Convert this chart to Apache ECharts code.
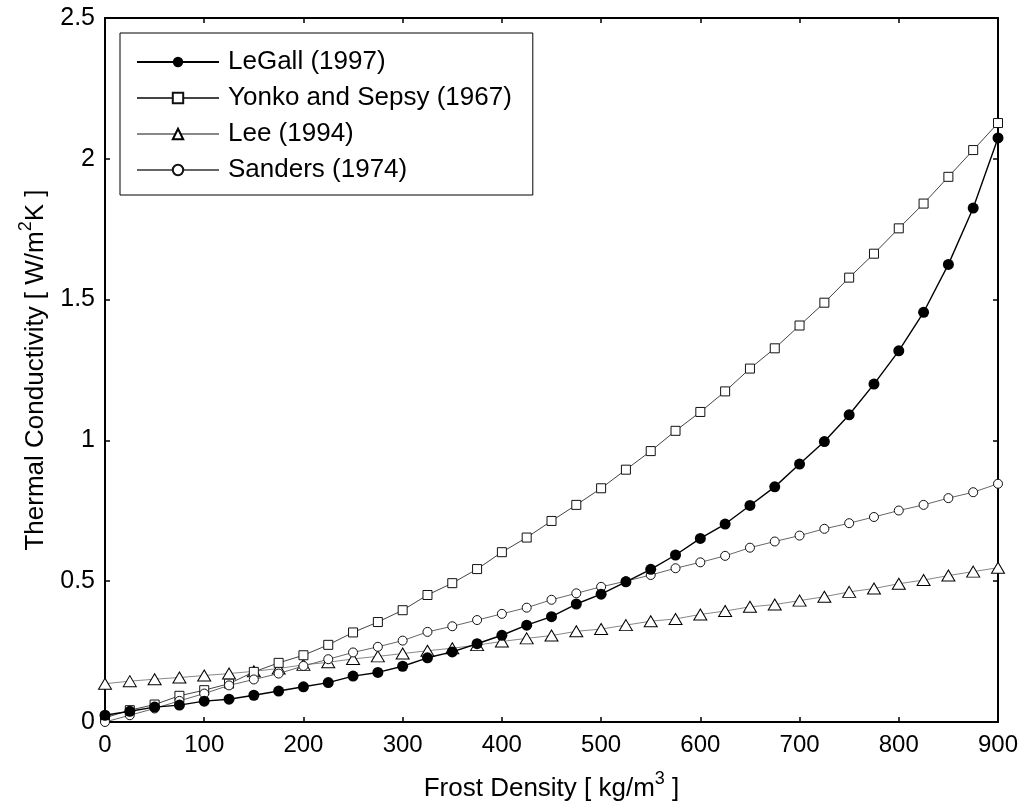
<!DOCTYPE html>
<html>
<head>
<meta charset="utf-8">
<script src="https://cdn.jsdelivr.net/npm/echarts@6/dist/echarts.min.js"></script>
<style>
html,body{margin:0;padding:0;background:#fff;}
#chart{width:1025px;height:805px;}
</style>
</head>
<body>
<div id="chart"></div>
<script>
var density = [0,25,50,75,100,125,150,175,200,225,250,275,300,325,350,375,400,425,450,475,500,525,550,575,600,625,650,675,700,725,750,775,800,825,850,875,900];
var legall = [0.024,0.038,0.053,0.06,0.074,0.081,0.095,0.11,0.125,0.14,0.163,0.176,0.198,0.228,0.249,0.278,0.308,0.344,0.374,0.419,0.454,0.498,0.542,0.593,0.652,0.703,0.769,0.835,0.916,0.996,1.091,1.2,1.318,1.455,1.625,1.825,2.074];
var yonko = [0.015,0.042,0.062,0.093,0.113,0.136,0.178,0.21,0.237,0.274,0.318,0.355,0.397,0.451,0.493,0.543,0.603,0.655,0.714,0.771,0.83,0.896,0.962,1.034,1.101,1.174,1.255,1.327,1.408,1.489,1.578,1.663,1.753,1.841,1.936,2.031,2.127];
var lee = [0.136,0.145,0.152,0.158,0.165,0.172,0.18,0.19,0.203,0.212,0.224,0.233,0.243,0.253,0.262,0.273,0.286,0.297,0.307,0.322,0.33,0.344,0.358,0.366,0.382,0.394,0.409,0.417,0.431,0.445,0.462,0.474,0.491,0.504,0.52,0.534,0.548];
var sanders = [0,0.024,0.048,0.075,0.101,0.13,0.151,0.172,0.199,0.223,0.247,0.267,0.289,0.32,0.34,0.362,0.384,0.406,0.434,0.457,0.48,0.5,0.522,0.546,0.567,0.59,0.619,0.641,0.662,0.686,0.706,0.728,0.751,0.771,0.795,0.816,0.846];
var seriesNames = ['LeGall (1997)','Yonko and Sepsy (1967)','Lee (1994)','Sanders (1974)'];
var xTicks = [0,100,200,300,400,500,600,700,800,900];
var yTicks = [0,0.5,1,1.5,2,2.5];

function pairs(ys){ return density.map(function(x,i){ return [x, ys[i]]; }); }

var FONT = 'Liberation Sans, Arial, sans-serif';
var chart = echarts.init(document.getElementById('chart'), null, {renderer:'canvas'});

var axisCommon = {
  axisLine:{show:true, onZero:false, lineStyle:{color:'#000', width:2}},
  axisTick:{show:true, inside:true, length:5, lineStyle:{color:'#000', width:1.5}},
  splitLine:{show:false}
};
var titleRich = {
  a:{fontFamily:FONT, fontSize:26, color:'#000', lineHeight:32, verticalAlign:'bottom'},
  s:{fontFamily:FONT, fontSize:18, color:'#000', lineHeight:18, verticalAlign:'top'}
};

chart.setOption({
  animation:false,
  backgroundColor:'#fff',
  grid:{left:105, right:27, top:18, bottom:83, containLabel:false, outerBoundsMode:'none'},
  legend:{
    orient:'vertical', left:120, top:33,
    padding:[16,21,12,16], itemGap:10,
    itemWidth:82, itemHeight:13,
    borderColor:'#000', borderWidth:1, backgroundColor:'#fff',
    textStyle:{fontFamily:FONT, fontSize:26, color:'#000', padding:[0,0,0,4]},
    data:seriesNames
  },
  xAxis:[
    Object.assign({}, axisCommon, {
      type:'value', min:0, max:900, interval:100, position:'bottom',
      axisLabel:{fontFamily:FONT, fontSize:24, color:'#000', margin:11},
      name:'{a|Frost Density [ kg/m}{s|3}{a| ]}', nameLocation:'middle', nameGap:48,
      nameTextStyle:{rich:titleRich}
    }),
    Object.assign({}, axisCommon, {
      type:'value', min:0, max:900, interval:100, position:'top',
      axisLabel:{show:false}
    })
  ],
  yAxis:[
    Object.assign({}, axisCommon, {
      type:'value', min:0, max:2.5, interval:0.5, position:'left',
      axisLabel:{fontFamily:FONT, fontSize:25, color:'#000', margin:10},
      name:'{a|Thermal Conductivity [ W/m}{s|2}{a|K ]}', nameLocation:'middle', nameGap:56,
      nameMoveOverlap:false,
      nameTextStyle:{rich:titleRich}
    }),
    Object.assign({}, axisCommon, {
      type:'value', min:0, max:2.5, interval:0.5, position:'right',
      axisLabel:{show:false}
    })
  ],
  series:[
    {name:seriesNames[0], type:'line', data:pairs(legall), z:5,
     symbol:'circle', symbolSize:11, showSymbol:true,
     lineStyle:{color:'#000', width:1.4}, itemStyle:{color:'#000', borderColor:'#000', borderWidth:0}},
    {name:seriesNames[1], type:'line', data:pairs(yonko), z:3,
     symbol:'rect', symbolSize:9,
     lineStyle:{color:'#444', width:1}, itemStyle:{color:'#fff', borderColor:'#111', borderWidth:1}},
    {name:seriesNames[2], type:'line', data:pairs(lee), z:2,
     symbol:'triangle', symbolSize:[13,11],
     lineStyle:{color:'#888', width:1}, itemStyle:{color:'#fff', borderColor:'#000', borderWidth:1}},
    {name:seriesNames[3], type:'line', data:pairs(sanders), z:4,
     symbol:'circle', symbolSize:9,
     lineStyle:{color:'#666', width:1}, itemStyle:{color:'#fff', borderColor:'#111', borderWidth:1}}
  ]
});
</script>
</body>
</html>
